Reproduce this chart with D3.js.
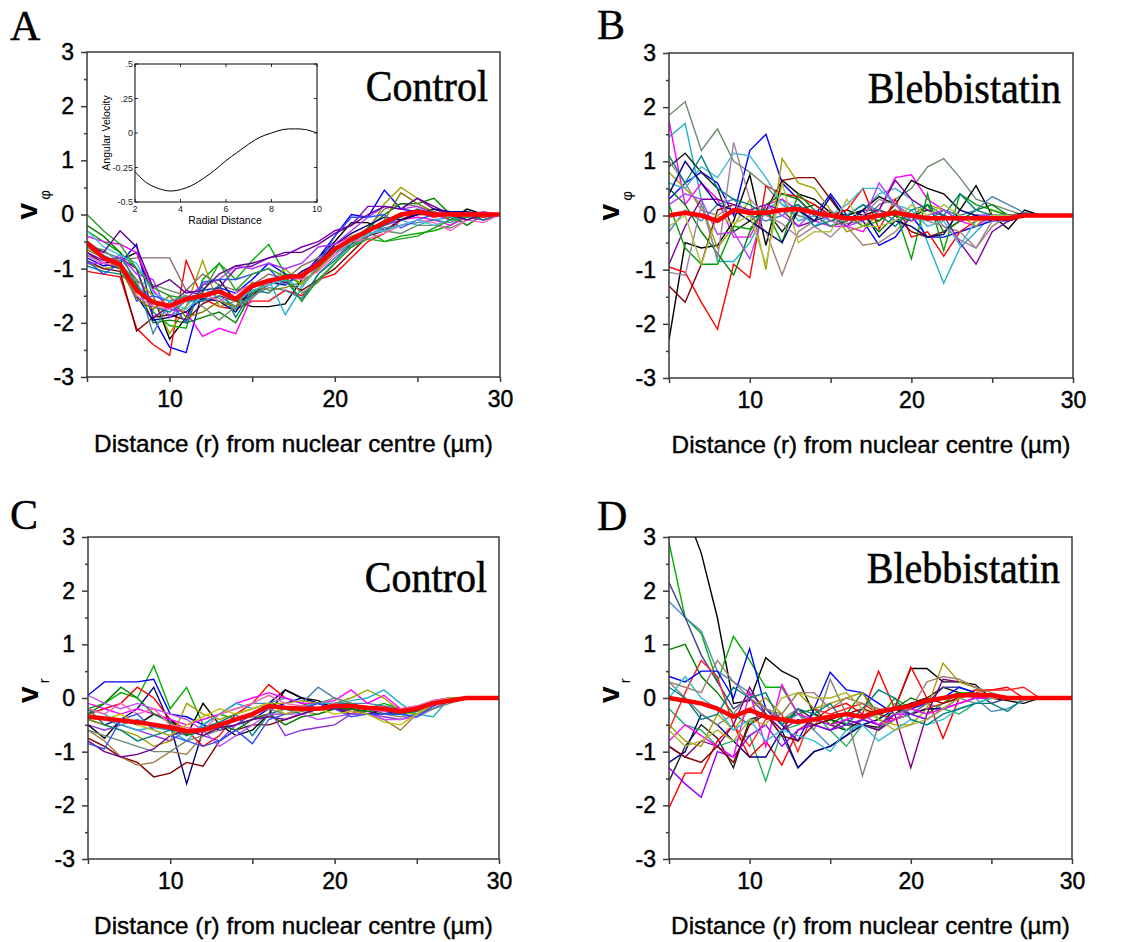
<!DOCTYPE html>
<html>
<head>
<meta charset="utf-8">
<script src="https://cdn.jsdelivr.net/npm/d3@7"></script>
<style>
body { margin: 0; background: #fff; }
svg { display: block; }
</style>
</head>
<body>
<svg id="fig" width="1140" height="942"></svg>
<script>
const svg = d3.select("#fig");

// shared x positions (µm) and tick values
const xs = [5,6,7,8,9,10,11,12,13,14,15,16,17,18,19,20,21,22,23,24,25,26,27,28,29,30];
const yTicks = [-3,-2,-1,0,1,2,3];
const yMinor = [-2.5,-1.5,-0.5,0.5,1.5,2.5];
const xTicks = [5,10,15,20,25,30];
const xLabelled = [10,20,30];

// A : v_phi, control
const aColors = ["#000000","#ff0000","#00b000","#0000ff","#20b0d0","#ff00ff","#a0a000","#8a6a6a","#800000","#8000c0","#008000","#000080","#4682b4","#b030ff","#008080","#6b8e6b","#3050ff","#ff60c0","#808000","#40c0e0","#20a020","#600090"];
const aSeries = [
  [-0.7,-0.9,-0.85,-0.7,-1.5,-2.3,-1.9,-1.3,-1.2,-1.6,-1.7,-1.7,-1.65,-1.2,-0.8,-0.5,-0.15,-0.15,-0.3,-0.1,0.0,0.05,-0.1,0.1,0.0,0.0],
  [-1.05,-1.1,-1.15,-2.1,-2.4,-2.6,-0.85,-1.55,-1.7,-1.75,-1.6,-1.6,-1.4,-1.5,-1.2,-1.1,-0.8,-0.5,-0.35,-0.1,0.05,-0.05,0.0,0.0,-0.05,0.0],
  [-0.3,-0.5,-0.7,-1.0,-1.8,-2.05,-2.1,-1.2,-0.9,-1.2,-0.85,-0.55,-1.1,-1.3,-1.0,-0.6,-0.5,-0.3,-0.5,-0.4,-0.35,-0.3,-0.2,0.0,0.0,0.0],
  [-0.8,-0.95,-0.9,-0.55,-1.9,-2.45,-2.55,-1.4,-1.35,-1.45,-1.2,-0.9,-1.1,-1.15,-0.8,-0.4,0.0,-0.05,0.45,0.1,0.05,0.05,-0.1,0.0,0.0,0.0],
  [-0.6,-0.75,-0.9,-1.3,-1.6,-1.9,-1.7,-1.35,-1.55,-1.75,-1.3,-1.2,-1.85,-1.35,-0.95,-0.7,-0.6,-0.4,-0.2,-0.1,-0.2,-0.1,-0.05,-0.05,0.0,0.0],
  [-0.4,-0.5,-0.55,-0.7,-1.4,-1.75,-1.8,-2.25,-2.1,-2.2,-1.5,-1.3,-1.2,-1.1,-0.85,-0.55,-0.4,-0.3,-0.2,-0.1,-0.05,-0.1,-0.2,-0.05,-0.1,0.0],
  [-0.9,-1.0,-0.95,-1.2,-1.5,-2.2,-1.7,-0.85,-1.7,-1.6,-1.4,-1.3,-1.0,-1.3,-1.0,-0.65,-0.4,-0.3,0.2,0.5,0.3,0.1,0.0,0.0,0.0,0.0],
  [-0.6,-0.8,-0.85,-0.8,-0.8,-0.8,-1.4,-1.1,-1.3,-1.4,-1.3,-1.1,-1.2,-0.95,-0.8,-0.6,-0.45,-0.25,0.1,0.2,0.15,0.05,-0.1,0.0,0.0,0.0],
  [-0.85,-1.0,-1.05,-2.15,-1.9,-1.85,-1.95,-1.65,-1.5,-1.6,-1.5,-1.2,-1.25,-1.4,-1.2,-1.0,-0.7,-0.4,-0.3,-0.1,0.0,0.0,0.0,0.0,0.0,0.0],
  [-0.7,-0.85,-0.8,-1.0,-1.9,-1.7,-1.4,-1.5,-1.35,-1.0,-0.95,-0.8,-0.75,-0.6,-0.5,-0.3,-0.2,0.15,0.15,0.1,0.3,0.1,0.0,0.0,0.0,0.0],
  [-0.2,-0.4,-0.7,-1.3,-2.0,-1.95,-2.0,-1.9,-1.8,-2.0,-1.45,-1.3,-1.1,-1.2,-0.85,-0.7,-0.55,-0.25,0.0,0.2,0.2,0.3,0.0,-0.2,0.0,0.0],
  [-0.75,-0.9,-1.0,-1.5,-1.95,-1.9,-1.8,-1.55,-1.6,-1.8,-1.35,-1.25,-1.3,-1.05,-0.9,-0.55,-0.35,-0.2,-0.05,-0.1,0.0,0.1,0.05,0.05,0.0,0.0],
  [-0.5,-0.7,-0.8,-1.2,-2.2,-1.6,-1.5,-1.6,-1.5,-1.7,-1.5,-1.35,-1.4,-1.55,-1.1,-0.8,-0.55,-0.4,-0.25,-0.2,-0.15,-0.1,-0.15,0.0,0.0,0.0],
  [-0.9,-0.9,-0.75,-1.1,-1.2,-1.9,-1.55,-1.3,-1.2,-0.95,-1.0,-0.9,-1.0,-0.9,-0.6,-0.55,-0.3,-0.05,0.15,0.1,0.15,0.0,-0.1,0.0,0.05,0.0],
  [-0.95,-1.05,-1.1,-1.35,-1.7,-1.8,-1.6,-1.6,-1.3,-1.9,-1.4,-1.45,-1.2,-1.6,-1.1,-0.85,-0.55,-0.3,-0.2,-0.05,0.1,0.0,0.0,0.0,-0.1,0.0],
  [-0.6,-0.65,-0.9,-1.25,-1.3,-1.4,-1.5,-1.7,-1.95,-1.7,-1.55,-1.25,-1.15,-1.45,-1.25,-0.9,-0.6,-0.35,-0.3,-0.35,-0.2,-0.2,-0.25,-0.1,0.0,0.0],
  [-0.85,-1.1,-0.9,-1.6,-1.5,-1.6,-2.0,-1.25,-1.2,-1.2,-1.1,-1.0,-1.3,-1.1,-0.9,-0.4,-0.05,-0.05,0.0,-0.25,-0.1,0.0,0.0,0.0,0.0,0.0],
  [-0.75,-0.9,-0.95,-1.5,-1.7,-1.75,-1.6,-1.45,-1.6,-1.45,-1.3,-1.3,-1.15,-1.2,-1.05,-0.75,-0.5,-0.45,-0.35,-0.2,-0.1,-0.15,-0.3,-0.1,-0.15,0.0],
  [-0.65,-0.8,-1.0,-1.55,-1.75,-1.5,-1.9,-1.8,-1.6,-1.7,-1.25,-1.4,-1.35,-1.25,-1.0,-0.7,-0.45,-0.35,-0.1,0.4,0.2,0.05,-0.1,0.0,0.0,0.0],
  [-0.3,-0.6,-0.75,-0.9,-1.45,-1.6,-1.75,-1.5,-1.45,-1.6,-1.4,-1.3,-1.2,-1.35,-0.9,-0.7,-0.5,-0.35,-0.3,-0.2,-0.1,-0.2,-0.1,-0.05,0.0,0.0],
  [0.0,-0.3,-0.55,-1.0,-1.35,-1.5,-1.55,-1.45,-0.9,-1.4,-1.1,-1.0,-1.15,-1.6,-1.2,-0.9,-0.6,-0.45,-0.5,-0.45,-0.4,-0.25,-0.1,-0.05,0.0,0.0],
  [-0.55,-0.7,-0.3,-0.6,-1.35,-1.2,-1.45,-1.4,-1.1,-0.95,-0.9,-0.8,-0.7,-0.7,-0.55,-0.35,-0.2,0.0,0.15,0.1,0.3,0.15,0.0,-0.1,0.0,0.0]
];
const aMean = [-0.52,-0.8,-0.92,-1.4,-1.62,-1.69,-1.56,-1.5,-1.42,-1.56,-1.32,-1.22,-1.16,-1.13,-0.92,-0.64,-0.46,-0.3,-0.15,0.0,0.05,0.0,0.0,0.0,0.0,0.0];

// B : v_phi, blebbistatin
const bColors = ["#6e8b6e","#20b0c8","#ff00ff","#0000ff","#000000","#202020","#ff0000","#800000","#a0a000","#a08070","#8000a0","#00a000","#008000","#40b8d8","#4682b4","#008080","#b040ff","#000080","#a080a0","#b0c040"];
const bSeries = [
  [1.85,2.1,1.2,1.6,1.0,0.8,0.55,0.2,0.0,-0.1,0.1,-0.15,-0.1,0.2,0.3,0.5,0.9,1.05,0.7,0.3,0.2,0.1,0.0,0.0,0.0,0.0],
  [1.45,1.7,0.3,-0.85,-0.85,-0.5,0.1,0.3,-0.1,0.0,-0.2,-0.1,0.1,0.4,0.5,0.3,-0.5,-1.25,-0.6,-0.3,0.0,-0.1,0.0,0.0,0.0,0.0],
  [1.75,0.2,0.6,0.3,-0.4,-0.4,0.2,0.3,0.1,-0.1,-0.2,-0.2,-0.3,0.1,0.7,0.75,0.3,0.1,-0.1,-0.2,0.0,-0.1,0.0,0.0,0.0,0.0],
  [0.3,0.6,0.8,0.6,0.0,1.2,1.5,0.6,0.3,0.0,0.4,0.0,-0.1,-0.55,-0.4,0.0,-0.4,-0.4,-0.3,-0.2,-0.1,-0.1,0.0,0.0,0.0,0.0],
  [-2.3,-0.5,-0.6,-0.55,-0.1,0.75,-0.55,0.65,0.4,0.3,0.05,0.0,0.1,0.35,0.2,0.65,0.5,0.4,0.1,0.55,0.0,-0.25,0.1,0.0,0.0,0.0],
  [0.9,1.15,0.8,0.5,-0.3,-0.1,0.1,-0.3,0.1,0.2,0.0,0.1,0.0,-0.1,0.2,0.0,0.1,0.0,-0.1,0.0,0.0,0.0,0.05,0.0,0.0,0.0],
  [-0.95,-1.05,-1.6,-2.1,-0.9,-1.15,0.55,0.4,0.35,0.2,0.0,0.1,0.5,-0.25,0.3,-0.4,-0.3,-0.75,-0.3,-0.1,-0.05,0.0,0.0,0.0,0.0,0.0],
  [-1.3,-1.6,-0.9,0.1,0.2,0.0,0.1,0.65,0.7,0.7,0.3,-0.1,0.0,0.1,0.0,-0.3,-0.4,-0.3,-0.1,0.0,0.0,-0.1,0.0,0.0,0.0,0.0],
  [0.8,0.5,0.2,-0.6,-0.2,0.3,-1.0,1.05,0.6,0.5,0.1,-0.3,-0.2,0.0,0.1,0.0,0.2,0.1,0.0,-0.2,0.1,0.0,0.0,0.0,0.0,0.0],
  [1.0,0.6,0.1,0.0,0.2,0.0,-0.3,-1.1,-0.3,-0.1,0.1,-0.2,-0.55,-0.5,-0.3,0.0,0.2,-0.2,-0.3,-0.6,-0.2,0.0,0.0,0.0,0.0,0.0],
  [-0.9,-0.2,0.3,0.3,0.2,0.1,0.2,0.1,-0.2,-0.1,0.0,-0.2,0.1,0.1,0.65,0.3,0.1,0.0,-0.5,-0.9,-0.3,-0.1,0.0,0.0,0.0,0.0],
  [0.2,-0.6,-0.9,-0.9,-0.2,-0.25,0.1,-0.5,0.4,0.1,-0.1,0.0,-0.2,-0.1,0.1,-0.8,0.4,-0.65,0.4,0.2,0.1,0.0,0.0,0.0,0.0,0.0],
  [0.5,0.2,-0.3,-0.7,-1.1,-0.3,0.2,0.4,0.3,0.0,-0.2,-0.1,0.0,-0.3,0.0,-0.1,0.2,-0.3,-0.1,0.1,0.2,0.0,0.0,0.0,0.0,0.0],
  [0.6,0.5,0.9,0.7,1.15,1.1,0.7,0.2,0.1,-0.2,0.0,0.2,0.5,0.5,0.2,0.1,-0.2,-0.1,-0.55,-0.1,0.0,0.0,0.0,0.0,0.0,0.0],
  [-0.3,0.1,-0.1,0.2,0.3,0.0,-0.1,0.0,0.2,0.0,-0.2,0.0,0.2,0.1,-0.1,0.0,-0.1,0.1,0.0,0.1,0.35,0.2,0.05,0.0,0.0,0.0],
  [1.1,0.6,1.1,0.5,0.3,0.2,0.0,0.1,0.2,-0.2,-0.1,0.0,0.2,0.0,-0.2,0.1,0.2,0.0,0.4,0.1,0.0,0.0,0.0,0.0,0.0,0.0],
  [0.2,0.4,0.3,-0.35,-0.3,-0.8,0.2,0.0,-0.2,0.1,-0.1,-0.2,-0.1,0.6,0.2,-0.1,0.0,0.1,-0.1,0.0,0.0,0.0,0.0,0.0,0.0,0.0],
  [0.4,1.0,0.6,0.2,0.1,-0.1,-0.3,-0.5,0.1,-0.1,0.35,-0.1,0.1,-0.4,-0.1,-0.2,-0.4,-0.35,0.1,0.0,-0.1,0.0,0.0,0.0,0.0,0.0],
  [-1.05,-1.1,0.2,-0.8,1.35,0.3,0.0,-0.15,-0.4,-0.2,-0.4,-0.1,0.0,0.3,0.2,0.0,-0.1,-0.2,-0.45,-0.6,-0.1,0.0,0.0,0.0,0.0,0.0],
  [-0.2,0.0,-0.9,0.0,-0.15,0.0,-0.9,0.6,-0.5,-0.3,-0.3,0.3,-0.2,-0.2,-0.1,0.2,0.0,0.2,0.0,-0.1,0.0,0.0,0.0,0.0,0.0,0.0]
];
const bMean = [0.0,0.05,0.0,-0.1,0.1,0.05,0.05,0.1,0.12,0.05,0.0,-0.05,-0.05,0.0,0.05,0.0,-0.05,-0.05,-0.05,-0.05,-0.05,-0.05,0.0,0.0,0.0,0.0];

// C : v_r, control
const cColors = ["#00b000","#0000ff","#000080","#800000","#a07840","#9030e0","#ff0000","#000000","#4682b4","#ff00ff","#a0a000","#20b0d0","#008000","#008080","#c050ff","#6e8b6e","#700090","#ff60b0","#3050ff","#c0c000"];
const cSeries = [
  [-0.2,-0.1,0.1,0.0,0.6,-0.2,0.2,-0.5,-0.3,-0.4,-0.3,-0.1,-0.2,-0.3,-0.2,-0.15,-0.1,-0.2,-0.1,-0.2,-0.2,-0.1,0.0,0.0,0.0,0.0],
  [0.05,0.3,0.3,0.3,0.35,-0.3,-0.35,-0.5,-0.6,-0.5,-0.4,-0.2,-0.1,0.0,-0.1,-0.2,-0.3,-0.3,-0.25,-0.3,-0.2,-0.05,0.0,0.0,0.0,0.0],
  [-0.4,-0.5,-0.4,-0.2,0.2,-0.5,-1.6,-0.6,-0.5,-0.4,-0.3,-0.1,0.15,0.0,-0.1,-0.2,-0.2,-0.3,-0.3,-0.3,-0.2,-0.1,0.0,0.0,0.0,0.0],
  [-0.75,-0.9,-1.1,-1.2,-1.47,-1.4,-1.2,-1.27,-0.8,-0.6,-0.5,-0.5,-0.4,-0.3,-0.2,-0.2,-0.3,-0.2,-0.3,-0.3,-0.2,-0.1,0.0,0.0,0.0,0.0],
  [-0.6,-0.8,-1.1,-1.25,-1.2,-1.0,-1.05,-0.7,-0.5,-0.4,-0.35,-0.3,-0.3,-0.25,-0.3,-0.2,-0.2,-0.3,-0.4,-0.6,-0.3,-0.1,0.0,0.0,0.0,0.0],
  [-0.5,-0.6,-0.5,-0.6,-0.7,-0.8,-0.6,-0.7,-0.8,-0.5,-0.3,-0.2,-0.7,-0.6,-0.55,-0.5,-0.3,-0.3,-0.35,-0.4,-0.3,-0.2,-0.05,0.0,0.0,0.0],
  [-0.3,-0.2,-0.1,0.2,0.0,-0.4,-0.6,-0.9,-0.7,-0.3,-0.1,0.25,0.0,-0.1,-0.2,-0.2,-0.1,-0.2,-0.3,-0.3,-0.2,-0.1,0.0,0.0,0.0,0.0],
  [-0.5,-0.75,-0.4,-0.5,-0.3,-0.4,-0.7,-0.1,-0.5,-0.7,-0.6,-0.3,0.15,0.0,-0.05,-0.2,-0.2,-0.25,-0.3,-0.3,-0.2,-0.1,0.0,0.0,0.0,0.0],
  [-0.3,-0.4,-0.5,-0.4,-0.5,-0.6,-0.7,-0.5,-0.3,-0.2,-0.1,-0.1,0.0,-0.1,0.2,0.0,-0.1,-0.1,-0.15,-0.2,-0.15,-0.05,0.0,0.0,0.0,0.0],
  [-0.1,-0.2,-0.3,-0.2,-0.3,-0.4,-0.5,-0.4,-0.3,-0.1,0.0,0.1,0.0,-0.1,-0.1,-0.05,0.15,-0.1,0.05,-0.2,-0.25,-0.1,0.0,0.0,0.0,0.0],
  [-0.4,-0.5,-0.6,-0.7,-0.9,-0.8,-0.1,-0.3,-0.4,-0.3,-0.2,-0.1,-0.1,-0.05,-0.1,-0.1,0.0,0.15,0.0,-0.25,-0.3,-0.15,0.0,0.0,0.0,0.0],
  [-0.2,-0.3,-0.5,-0.6,-0.55,-0.6,-0.8,-0.5,-0.3,-0.1,-0.2,-0.1,-0.2,-0.15,-0.1,-0.1,-0.05,0.0,0.15,-0.1,-0.3,-0.35,0.0,0.0,0.0,0.0],
  [-0.3,-0.1,0.2,0.0,-0.3,-0.45,-0.7,-0.6,-0.5,-0.6,-0.4,-0.3,-0.5,-0.35,-0.3,-0.2,-0.2,-0.25,-0.2,-0.3,-0.25,-0.1,0.0,0.0,0.0,0.0],
  [-0.2,-0.5,-0.6,-0.8,-0.7,-0.6,-0.65,-0.55,-0.45,-0.3,-0.7,-0.3,-0.2,-0.3,-0.2,-0.1,-0.1,-0.2,-0.3,-0.3,-0.35,-0.2,-0.05,0.0,0.0,0.0],
  [0.05,-0.1,-0.2,-0.1,-0.2,-0.3,-0.4,-0.6,-0.9,-0.7,-0.5,-0.3,-0.3,-0.3,-0.4,-0.35,-0.3,-0.3,-0.4,-0.4,-0.35,-0.2,-0.05,0.0,0.0,0.0],
  [-0.6,-0.7,-0.8,-0.9,-1.0,-1.0,-0.8,-0.7,-0.6,-0.4,-0.3,-0.2,-0.3,-0.2,-0.1,0.0,-0.1,-0.2,-0.3,-0.35,-0.3,-0.2,-0.1,0.0,0.0,0.0],
  [-0.8,-1.0,-1.1,-1.05,-0.95,-0.7,-0.6,-0.7,-0.55,-0.5,-0.4,-0.35,-0.4,-0.3,-0.2,-0.2,-0.25,-0.3,-0.2,-0.2,-0.2,-0.1,0.0,0.0,0.0,0.0],
  [-0.2,-0.3,-0.1,-0.3,-0.2,-0.5,-0.55,-0.6,-0.3,-0.2,-0.1,0.05,-0.1,-0.15,-0.2,-0.1,-0.15,-0.2,-0.25,-0.2,-0.15,-0.05,0.0,0.0,0.0,0.0],
  [-0.85,-0.95,-0.4,-0.3,-0.6,-0.7,-0.8,-0.9,-0.8,-0.6,-0.85,-0.4,-0.3,-0.2,-0.1,-0.2,-0.35,-0.3,-0.3,-0.3,-0.35,-0.15,0.0,0.0,0.0,0.0],
  [-0.3,-0.4,-0.3,-0.5,-0.6,-0.7,-0.5,-0.35,-0.2,-0.3,-0.2,-0.1,-0.3,-0.2,-0.2,-0.3,-0.25,-0.3,-0.45,-0.5,-0.3,-0.1,0.0,0.0,0.0,0.0]
];
const cMean = [-0.35,-0.38,-0.42,-0.45,-0.5,-0.55,-0.62,-0.6,-0.5,-0.4,-0.3,-0.15,-0.18,-0.2,-0.2,-0.15,-0.15,-0.18,-0.2,-0.25,-0.2,-0.1,-0.05,0.0,0.0,0.0];

// D : v_r, blebbistatin
const dColors = ["#000000","#202020","#00b000","#20b060","#008000","#5090c0","#404090","#ff0000","#ff2020","#0000ff","#000080","#808080","#800080","#a0a000","#9000ff","#ff00ff","#800000","#30c0d0","#a08070","#008080","#b0b030"];
const dSeries = [
  [4.5,3.5,2.7,1.5,-0.1,-0.05,0.75,0.5,0.35,-0.3,-0.4,-0.5,-0.5,-0.55,-0.2,0.55,0.55,0.3,0.3,0.25,0.0,-0.05,-0.1,0.0,0.0,0.0],
  [-1.55,-0.9,-0.5,-0.75,-1.3,-0.4,-0.3,-0.6,-0.2,-0.4,-0.5,-0.6,-0.4,-0.5,-0.3,-0.1,0.0,0.2,0.1,0.05,0.0,0.0,0.0,0.0,0.0,0.0],
  [2.9,1.5,1.2,0.3,1.15,0.7,0.2,0.2,-0.3,-0.5,-0.4,-0.6,-0.5,-0.4,0.0,-0.2,-0.3,-0.1,0.1,0.1,0.0,0.0,0.0,0.0,0.0,0.0],
  [-0.2,-0.5,-0.6,-0.9,-0.8,-0.7,-1.55,-0.6,-0.5,-0.3,-0.6,-0.9,-0.5,-0.6,-0.1,-0.3,-0.4,-0.2,-0.3,-0.1,0.0,0.0,0.0,0.0,0.0,0.0],
  [0.9,1.0,0.4,0.1,-0.3,-0.5,-0.2,-0.4,-0.3,-0.2,-0.5,-0.3,0.1,-0.3,-0.2,0.0,-0.1,0.0,0.1,0.0,0.0,0.0,0.0,0.0,0.0,0.0],
  [1.8,1.5,1.25,0.5,0.3,0.1,-0.2,-0.5,-0.3,-0.6,-0.9,-0.7,-0.4,-0.3,-0.2,-0.3,-0.2,-0.2,-0.1,0.0,-0.25,-0.2,-0.05,0.0,0.0,0.0],
  [2.15,1.5,0.8,0.3,-0.2,0.0,-0.3,-0.7,-1.3,-1.0,-0.9,-0.7,-0.5,-0.6,-0.4,-0.3,-0.1,0.2,0.2,0.1,-0.1,0.0,0.0,0.0,0.0,0.0],
  [-2.05,-1.4,-1.4,-0.8,-0.5,-1.1,-0.8,-1.25,-0.6,-0.4,-0.2,-0.1,-0.3,0.5,-0.2,0.58,0.0,-0.75,0.0,0.15,0.15,0.2,0.0,0.0,0.0,0.0],
  [-0.6,0.1,0.7,0.4,-0.5,-0.9,-0.4,-0.3,-1.0,-0.2,-0.3,-0.2,-0.1,-0.3,-0.4,-0.3,-0.2,-0.1,0.0,0.1,0.15,0.15,0.2,0.0,0.0,0.0],
  [0.4,0.3,0.5,0.5,0.0,0.92,-0.2,-0.5,-0.8,-0.2,0.48,0.15,0.1,-0.1,-0.3,-0.2,-0.1,0.0,0.2,0.1,0.0,0.0,0.0,0.0,0.0,0.0],
  [-1.2,-1.0,-0.3,-0.5,-0.8,-1.1,-1.1,-0.6,-1.3,-1.0,-0.9,-0.7,-0.5,-0.4,-0.2,-0.3,-0.2,-0.2,0.0,0.1,0.0,0.0,0.0,0.0,0.0,0.0],
  [0.3,0.0,-0.3,-0.5,-0.3,0.1,-0.2,-0.4,-0.2,-0.6,0.35,-0.3,-1.45,-0.5,-0.4,-0.3,-0.1,-0.2,0.0,-0.1,0.0,0.0,0.0,0.0,0.0,0.0],
  [-0.9,-1.1,-0.8,-0.9,-0.5,0.2,-0.3,-0.6,-0.4,-0.5,-0.6,-0.4,-0.5,-0.6,-0.3,-1.3,-0.3,0.35,0.3,0.2,0.0,0.0,0.0,0.0,0.0,0.0],
  [-0.5,-0.8,-0.9,-0.3,-0.6,-0.2,0.0,-0.3,0.1,-0.2,-0.1,0.0,0.1,-0.4,-0.5,-0.5,-0.2,0.65,0.3,0.2,0.0,0.0,0.0,0.0,0.0,0.0],
  [-1.3,-1.6,-1.85,-1.0,-1.1,-0.7,-0.5,-0.9,-0.6,-0.5,-0.6,-0.5,-0.4,-0.5,-0.3,-0.3,-0.4,-0.2,-0.1,0.0,0.0,0.0,0.0,0.0,0.0,0.0],
  [-0.8,-0.5,-0.7,-0.9,-1.1,0.1,-0.9,0.25,-0.3,-0.4,-0.5,-0.4,-0.3,-0.5,-0.4,-0.2,-0.3,-0.2,-0.1,0.0,0.0,0.0,0.0,0.0,0.0,0.0],
  [-0.9,-1.1,-1.2,-0.9,-1.2,-0.5,-0.3,-0.7,-0.8,-0.5,-0.4,-0.3,-0.2,-0.3,-0.2,-0.1,0.0,-0.1,0.0,0.1,0.0,0.0,0.0,0.0,0.0,0.0],
  [0.0,0.4,0.0,-0.2,-0.6,-0.4,-0.8,-0.6,-0.7,-0.8,-1.0,-0.6,-0.5,-0.8,-0.6,-0.4,-0.5,-0.4,-0.2,-0.1,0.0,0.0,0.0,0.0,0.0,0.0],
  [0.3,0.2,0.1,0.7,0.3,0.0,-0.2,-0.3,0.1,0.1,-0.2,0.0,-0.1,-0.2,-0.3,-0.2,0.3,0.4,0.35,0.2,0.1,0.0,0.0,0.0,0.0,0.0],
  [0.2,0.0,-0.4,-0.3,0.2,0.0,0.1,-0.5,-0.2,-0.3,-0.1,-0.5,-0.2,0.15,0.0,-0.4,-0.5,-0.3,-0.2,-0.1,-0.1,-0.25,0.0,0.0,0.0,0.0],
  [-0.6,-0.9,-0.8,-0.6,-0.8,-0.4,-0.5,0.0,0.1,0.0,0.0,0.1,-0.2,-0.4,-0.6,-0.5,-0.4,-0.2,0.0,0.1,0.0,0.0,0.0,0.0,0.0,0.0]
];
const dMean = [0.0,-0.05,-0.1,-0.2,-0.35,-0.22,-0.35,-0.4,-0.45,-0.4,-0.35,-0.3,-0.35,-0.25,-0.2,-0.15,-0.05,0.0,0.05,0.05,0.05,0.0,0.0,0.0,0.0,0.0];

// inset of panel A: angular velocity vs radial distance
const insetR = [2,2.5,3,3.5,4,4.5,5,5.5,6,6.5,7,7.5,8,8.5,9,9.5,10];
const insetV = [-0.28,-0.36,-0.4,-0.42,-0.41,-0.38,-0.33,-0.27,-0.2,-0.14,-0.08,-0.03,0.0,0.025,0.03,0.025,0.0];
const insetYTicks = [0.5,0.25,0,-0.25,-0.5];
const insetYLabels = [".5",".25","0","-0.25","-0.5"];
const insetXTicks = [2,4,6,8,10];

const panels = [
  { letter: "A", title: "Control", sub: "\u03c6", series: aSeries, colors: aColors, mean: aMean,
    box: { x: 87, y: 52, w: 413, h: 325 }, letterPos: [10, 40], titleDy: 49, inset: true },
  { letter: "B", title: "Blebbistatin", sub: "\u03c6", series: bSeries, colors: bColors, mean: bMean,
    box: { x: 669, y: 53, w: 404, h: 325 }, letterPos: [597, 39], titleDy: 50 },
  { letter: "C", title: "Control", sub: "r", series: cSeries, colors: cColors, mean: cMean,
    box: { x: 88, y: 537, w: 411, h: 322 }, letterPos: [10, 529], titleDy: 55 },
  { letter: "D", title: "Blebbistatin", sub: "r", series: dSeries, colors: dColors, mean: dMean,
    box: { x: 669, y: 537, w: 403, h: 322 }, letterPos: [597, 530], titleDy: 46 }
];

const sans = "'Liberation Sans', Arial, sans-serif";
const serif = "'Liberation Serif', 'Times New Roman', serif";
const axisColor = "#3a3a3a";

panels.forEach(drawPanel);

function drawPanel(p, i) {
  const b = p.box;
  const x = d3.scaleLinear().domain([5, 30]).range([b.x, b.x + b.w]);
  const y = d3.scaleLinear().domain([-3, 3]).range([b.y + b.h, b.y]);
  const g = svg.append("g");

  const clipId = "clip" + i;
  svg.append("clipPath").attr("id", clipId)
    .append("rect").attr("x", b.x).attr("y", b.y).attr("width", b.w).attr("height", b.h);

  const line = d3.line().x((d, j) => x(xs[j])).y(d => y(d));

  const plot = g.append("g").attr("clip-path", `url(#${clipId})`);
  plot.selectAll(".trace")
    .data(p.series)
    .enter().append("path")
    .attr("class", "trace")
    .attr("d", line)
    .attr("fill", "none")
    .attr("stroke", (d, j) => p.colors[j % p.colors.length])
    .attr("stroke-width", 1.4);

  plot.append("path")
    .datum(p.mean)
    .attr("d", line)
    .attr("fill", "none")
    .attr("stroke", "#ff0000")
    .attr("stroke-width", 4.5)
    .attr("stroke-linejoin", "round");

  // frame
  g.append("rect")
    .attr("x", b.x).attr("y", b.y).attr("width", b.w).attr("height", b.h)
    .attr("fill", "none").attr("stroke", axisColor).attr("stroke-width", 1.5);

  // y axis
  g.append("g").attr("transform", `translate(${b.x},0)`)
    .call(d3.axisLeft(y).tickValues(yTicks).tickSize(6).tickPadding(7).tickFormat(d => String(d)));
  g.append("g").attr("transform", `translate(${b.x},0)`)
    .call(d3.axisLeft(y).tickValues(yMinor).tickSize(3).tickFormat(""));

  // x axis
  g.append("g").attr("transform", `translate(0,${b.y + b.h})`)
    .call(d3.axisBottom(x).tickValues(xTicks).tickSize(5).tickPadding(9)
      .tickFormat(d => xLabelled.includes(d) ? String(d) : ""));

  g.selectAll(".domain").remove();
  g.selectAll(".tick line").attr("stroke", axisColor).attr("stroke-width", 1.5);
  g.selectAll(".tick text").attr("fill", "#000")
    .attr("stroke", "#000").attr("stroke-width", 0.45)
    .style("font-family", sans).style("font-size", "23px");

  // x title
  g.append("text")
    .attr("x", b.x + b.w / 2).attr("y", b.y + b.h + 75)
    .attr("text-anchor", "middle")
    .attr("stroke", "#000").attr("stroke-width", 0.4)
    .style("font-family", sans).style("font-size", "24.3px")
    .text("Distance (r) from nuclear centre (\u00b5m)");

  // y title: v with subscript
  const yt = g.append("text")
    .attr("transform", `translate(${b.x - 50},${y(0) + 5}) rotate(-90)`)
    .style("font-family", sans);
  yt.append("tspan").style("font-size", "30px").style("font-weight", "bold").text("v");
  yt.append("tspan").attr("dx", 3).attr("dy", p.sub === "r" ? 11 : 13)
    .style("font-size", "15px").text(p.sub);

  // panel letter
  g.append("text")
    .attr("x", p.letterPos[0]).attr("y", p.letterPos[1])
    .attr("stroke", "#000").attr("stroke-width", 0.4)
    .style("font-family", serif).style("font-size", "42px")
    .text(p.letter);

  // condition label
  g.append("text")
    .attr("transform", `translate(${b.x + b.w - 12},${b.y + p.titleDy}) scale(1,1.1)`)
    .attr("text-anchor", "end")
    .attr("stroke", "#000").attr("stroke-width", 0.5)
    .style("font-family", serif).style("font-size", "40px")
    .text(p.title);

  if (p.inset) drawInset(g, b);
}

function drawInset(parent, b) {
  const box = { x: b.x + 48, y: b.y + 12, w: 182, h: 138 };
  const ix = d3.scaleLinear().domain([2, 10]).range([box.x, box.x + box.w]);
  const iy = d3.scaleLinear().domain([-0.5, 0.5]).range([box.y + box.h, box.y]);
  const g = parent.append("g");

  g.append("rect")
    .attr("x", box.x).attr("y", box.y).attr("width", box.w).attr("height", box.h)
    .attr("fill", "#fff").attr("stroke", "#000").attr("stroke-width", 1);

  // inward ticks on all four sides
  const tl = 3;
  g.selectAll(".iyl").data(insetYTicks).enter().append("line")
    .attr("x1", box.x).attr("x2", box.x + tl).attr("y1", d => iy(d)).attr("y2", d => iy(d))
    .attr("stroke", "#000").attr("stroke-width", 0.8);
  g.selectAll(".iyr").data(insetYTicks).enter().append("line")
    .attr("x1", box.x + box.w).attr("x2", box.x + box.w - tl).attr("y1", d => iy(d)).attr("y2", d => iy(d))
    .attr("stroke", "#000").attr("stroke-width", 0.8);
  g.selectAll(".ixb").data(insetXTicks).enter().append("line")
    .attr("x1", d => ix(d)).attr("x2", d => ix(d)).attr("y1", box.y + box.h).attr("y2", box.y + box.h - tl)
    .attr("stroke", "#000").attr("stroke-width", 0.8);
  g.selectAll(".ixt").data(insetXTicks).enter().append("line")
    .attr("x1", d => ix(d)).attr("x2", d => ix(d)).attr("y1", box.y).attr("y2", box.y + tl)
    .attr("stroke", "#000").attr("stroke-width", 0.8);

  g.selectAll(".iylab").data(insetYTicks).enter().append("text")
    .attr("x", box.x - 2).attr("y", d => iy(d)).attr("dy", "0.35em")
    .attr("text-anchor", "end")
    .style("font-family", sans).style("font-size", "9px").attr("fill", "#222")
    .text((d, j) => insetYLabels[j]);
  g.selectAll(".ixlab").data(insetXTicks).enter().append("text")
    .attr("x", d => ix(d)).attr("y", box.y + box.h + 10)
    .attr("text-anchor", "middle")
    .style("font-family", sans).style("font-size", "9px").attr("fill", "#222")
    .text(d => String(d));

  g.append("text")
    .attr("x", box.x + box.w / 2 - 1).attr("y", box.y + box.h + 22)
    .attr("text-anchor", "middle")
    .style("font-family", sans).style("font-size", "10.5px")
    .text("Radial Distance");
  g.append("text")
    .attr("transform", `translate(${box.x - 25},${box.y + box.h / 2}) rotate(-90)`)
    .attr("text-anchor", "middle")
    .style("font-family", sans).style("font-size", "10.5px")
    .text("Angular Velocity");

  const curve = d3.line().x((d, j) => ix(insetR[j])).y(d => iy(d)).curve(d3.curveCatmullRom);
  g.append("path").datum(insetV).attr("d", curve)
    .attr("fill", "none").attr("stroke", "#000").attr("stroke-width", 1);
}
</script>
</body>
</html>
